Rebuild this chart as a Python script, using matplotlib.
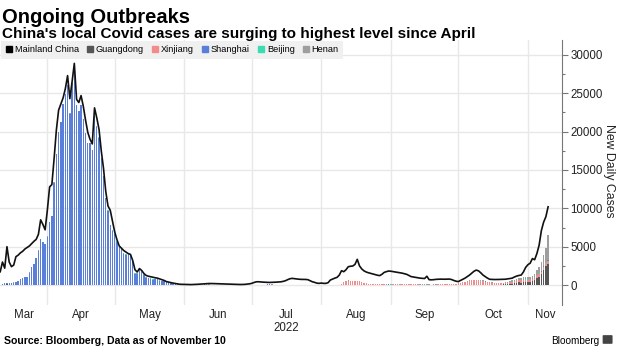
import matplotlib
matplotlib.use("Agg")
import matplotlib.pyplot as plt
import matplotlib.dates as mdates
from matplotlib.lines import Line2D
from matplotlib.patches import FancyBboxPatch
import numpy as np
import pandas as pd

plt.rcParams["font.family"] = ["Liberation Sans", "DejaVu Sans"]

fechas = pd.date_range("2022-03-11", "2022-11-10", freq="D")

# casos locales diarios, por mes (Mar 11 .. Nov 10)
total = (
    [1730, 3000, 2200, 5000, 3000, 2400, 2600, 3700, 3900, 4200, 4400, 4700, 4900, 5100, 5400, 5700, 5950, 6600, 8500, 7900, 7200]
    + [9800, 12800, 13100, 16500, 20200, 22800, 23600, 24400, 25600, 27300, 24300, 26500, 28900, 24200, 23800,
       24700, 23300, 21500, 19900, 19000, 18400, 23100, 21800, 20300, 17500, 15200, 12200, 10300, 9750, 8300]
    + [6900, 5900, 5100, 4800, 4500, 4300, 4100, 4000, 3200, 2000, 1700, 2150, 1900, 1500, 1250, 1150, 1080, 1000,
       950, 900, 800, 700, 600, 450, 380, 300, 250, 200, 150, 100, 90]
    + [90, 80, 70, 60, 70, 80, 100, 120, 150, 170, 180, 200, 200, 190, 180, 170, 160, 150, 140, 120, 110, 100, 90,
       80, 70, 70, 80, 90, 120, 160]
    + [220, 330, 420, 430, 400, 380, 360, 350, 340, 350, 360, 380, 400, 420, 480, 560, 700, 820, 870, 830, 780, 760,
       740, 740, 730, 700, 560, 430, 350, 250, 220]
    + [260, 220, 220, 300, 650, 780, 900, 1000, 1300, 1870, 1740, 2000, 2390, 2450, 2480, 2700, 3350, 2500, 2100,
       1850, 1700, 1600, 1520, 1450, 1350, 1280, 1230, 1400, 1650, 1750, 1830]
    + [1800, 1750, 1700, 1650, 1610, 1550, 1480, 1400, 1250, 1100, 1050, 1000, 950, 900, 870, 850, 1150, 700, 680,
       700, 740, 760, 770, 760, 760, 770, 780, 720, 600, 500]
    + [450, 600, 750, 900, 1100, 1300, 1550, 1800, 1950, 1850, 1600, 1300, 1100, 900, 750, 730, 720, 720, 730, 740,
       750, 760, 800, 850, 900, 1050, 1170, 1250, 1300, 1700, 2300]
    + [2650, 2850, 3450, 3300, 4100, 5200, 7100, 8200, 8900, 10200]
)

guangdong = (
    [40, 60, 70, 80, 70, 60, 50, 40, 40, 30, 30, 25, 25, 20, 20, 15, 15, 15, 12, 12, 10]
    + [10, 10, 8, 8, 6, 6, 5, 5, 5, 4, 4, 3, 3, 3, 4, 4, 3, 3, 2, 2, 2, 3, 2, 2, 2, 1, 1, 1, 2, 2]
    + [2, 1, 1, 1, 2, 2, 1, 1, 1, 1, 0, 0, 1, 1, 1, 0, 0, 1, 0, 0, 1, 0, 0, 1, 1, 0, 0, 1, 0, 0, 1]
    + [1, 1, 0, 0, 1, 1, 2, 1, 1, 0, 0, 1, 1, 0, 0, 1, 0, 0, 1, 1, 2, 2, 1, 1, 0, 0, 1, 1, 2, 2]
    + [3, 4, 5, 5, 6, 8, 10, 12, 10, 8, 6, 5, 5, 4, 4, 5, 6, 8, 10, 12, 10, 8, 6, 5, 4, 3, 3, 4, 5, 6, 8]
    + [10, 12, 14, 15, 15, 16, 18, 20, 22, 25, 25, 24, 22, 20, 18, 16, 15, 15, 16, 18, 20, 22, 25, 28, 30, 30, 32,
       35, 35, 38, 40]
    + [40, 42, 45, 45, 48, 50, 50, 48, 45, 42, 40, 38, 36, 34, 32, 30, 30, 28, 26, 25, 25, 24, 22, 20, 20, 18, 18,
       20, 22, 25]
    + [28, 30, 35, 40, 45, 50, 55, 60, 60, 58, 55, 50, 48, 45, 42, 45, 50, 55, 60, 70, 80, 100, 120, 150, 200, 250,
       300, 350, 300, 350, 400]
    + [400, 450, 500, 600, 900, 1100, 1400, 2000, 2500, 2800]
)

xinjiang = (
    [0] * 21 + [0] * 30 + [0] * 31 + [0] * 30
    + [0, 0, 0, 0, 0, 0, 0, 0, 0, 0, 0, 0, 0, 0, 0, 0, 0, 0, 0, 0, 0, 0, 0, 0, 0, 0, 0, 0, 0, 0, 0]
    + [0, 0, 0, 0, 0, 0, 0, 5, 30, 150, 350, 450, 560, 500, 450, 520, 560, 480, 420, 300, 200, 150, 120, 100, 80,
       60, 50, 40, 40, 30, 30]
    + [30, 30, 40, 40, 50, 50, 60, 60, 50, 50, 40, 40, 40, 30, 30, 30, 30, 30, 30, 40, 40, 50, 60, 80, 100, 120,
       150, 150, 150, 150]
    + [180, 250, 300, 350, 400, 500, 560, 560, 560, 540, 500, 480, 400, 350, 300, 250, 200, 180, 150, 150, 150, 150,
       150, 200, 250, 250, 300, 300, 300, 300, 300]
    + [300, 300, 300, 350, 350, 350, 350, 400, 400, 400]
)

shanghai = (
    [5, 64, 169, 130, 202, 158, 260, 366, 492, 758, 896, 981, 983, 1609, 2269, 2678, 3500, 4477, 5982, 5653, 5298]
    + [6311, 8226, 9006, 13354, 17077, 19982, 21222, 23624, 24944, 26087, 22348, 26330, 27719, 23460, 22680, 23513,
       21582, 19831, 18495, 18499, 17629, 22000, 20634, 19200, 16500, 14222, 11300, 9700, 7772, 7084]
    + [6606, 5669, 4982, 4651, 4024, 3961, 3975, 3900, 3014, 1487, 1449, 2096, 1681, 1369, 938, 869, 823, 719, 800,
       760, 570, 522, 480, 343, 290, 219, 131, 122, 93, 67, 15]
    + [10, 15, 10, 5, 5, 5, 5, 10, 10, 20, 10, 20, 5, 5, 5, 5, 5, 5, 5, 3, 5, 3, 3, 3, 4, 5, 2, 3, 5, 5]
    + [5, 10, 15, 20, 25, 30, 50, 60, 70, 60, 50, 30, 25, 15, 10, 10, 8, 5, 5, 5, 4, 3, 5, 3, 2, 3, 5, 2, 3, 2, 2]
    + [2, 3, 2, 1, 2, 3, 2, 1, 2, 3, 4, 3, 2, 2, 1, 2, 3, 2, 1, 1, 2, 2, 1, 1, 2, 3, 2, 1, 1, 2, 2]
    + [1, 2, 2, 1, 1, 2, 3, 2, 1, 1, 2, 2, 1, 1, 2, 2, 1, 1, 1, 2, 2, 1, 1, 2, 2, 1, 1, 2, 2, 1]
    + [2, 3, 5, 8, 10, 12, 15, 20, 25, 30, 25, 20, 15, 12, 10, 8, 8, 10, 12, 10, 8, 10, 12, 15, 12, 10, 8, 10, 12,
       15, 12]
    + [10, 10, 10, 10, 10, 20, 20, 20, 30, 30]
)

beijing = (
    [5, 4, 3, 3, 2, 2, 3, 2, 1, 1, 2, 2, 1, 1, 2, 3, 2, 2, 1, 1, 2]
    + [2, 3, 3, 2, 1, 2, 3, 2, 2, 1, 2, 3, 4, 5, 4, 3, 5, 8, 10, 12, 20, 25, 30, 35, 40, 45, 50, 48, 50, 55]
    + [58, 60, 62, 60, 58, 55, 52, 50, 48, 50, 48, 45, 42, 40, 38, 35, 32, 30, 28, 25, 22, 20, 18, 15, 12, 10, 8, 6,
       5, 4, 3]
    + [15, 20, 15, 10, 5, 5, 5, 10, 30, 50, 60, 50, 50, 40, 30, 20, 15, 10, 8, 5, 5, 3, 2, 2, 2, 2, 2, 1, 1, 1]
    + [1, 1, 2, 2, 1, 1, 0, 0, 1, 1, 0, 0, 1, 1, 0, 1, 0, 0, 1, 1, 0, 0, 1, 0, 0, 1, 1, 0, 0, 1, 1]
    + [1, 0, 0, 1, 1, 2, 1, 1, 0, 0, 1, 1, 2, 2, 1, 1, 0, 0, 1, 1, 2, 1, 1, 0, 0, 1, 1, 0, 0, 1, 1]
    + [1, 1, 2, 2, 1, 1, 0, 1, 1, 2, 2, 1, 1, 0, 1, 1, 2, 2, 1, 1, 0, 1, 1, 2, 2, 1, 1, 0, 1, 1]
    + [2, 3, 5, 8, 10, 12, 15, 18, 20, 22, 20, 18, 16, 15, 14, 15, 16, 18, 20, 22, 25, 25, 28, 30, 30, 32, 35, 38,
       40, 42, 45]
    + [20, 20, 20, 30, 40, 40, 50, 60, 60, 80]
)

henan = (
    [10, 12, 15, 18, 20, 22, 25, 20, 18, 15, 12, 10, 10, 8, 8, 10, 12, 12, 10, 8, 8]
    + [8, 10, 12, 15, 15, 18, 20, 22, 20, 18, 15, 12, 10, 10, 12, 15, 18, 20, 22, 20, 18, 16, 15, 14, 12, 10, 10,
       12, 15, 18]
    + [20, 25, 28, 30, 32, 35, 38, 40, 42, 45, 48, 50, 48, 45, 40, 35, 30, 25, 20, 18, 15, 12, 10, 8, 8, 6, 5, 5, 4,
       4, 3]
    + [3, 3, 4, 5, 6, 8, 10, 12, 10, 8, 6, 5, 5, 4, 4, 3, 3, 2, 2, 2, 3, 3, 2, 2, 1, 1, 2, 2, 3, 3]
    + [4, 5, 5, 6, 5, 4, 3, 3, 4, 5, 6, 5, 4, 3, 3, 4, 5, 6, 8, 6, 5, 4, 3, 3, 2, 2, 3, 3, 4, 4, 5]
    + [6, 8, 10, 12, 14, 15, 12, 10, 8, 8, 10, 12, 14, 16, 15, 14, 12, 10, 8, 8, 10, 12, 14, 15, 14, 12, 10, 10, 12,
       14, 15]
    + [16, 18, 20, 18, 16, 15, 14, 12, 12, 14, 16, 18, 20, 18, 16, 15, 14, 12, 12, 14, 16, 18, 20, 22, 20, 18, 16,
       15, 14, 12]
    + [12, 14, 16, 18, 20, 22, 25, 28, 30, 30, 28, 25, 22, 20, 22, 25, 30, 35, 40, 50, 60, 80, 100, 120, 150, 180,
       200, 250, 300, 300, 300]
    + [300, 300, 400, 500, 700, 900, 1200, 1500, 1800, 3200]
)

series = [
    ("Guangdong", guangdong, "#555555"),
    ("Xinjiang", xinjiang, "#f28b8b"),
    ("Shanghai", shanghai, "#5a7fdb"),
    ("Beijing", beijing, "#3ddbb4"),
    ("Henan", henan, "#9e9e9e"),
]

meses = pd.date_range("2022-03-01", "2022-12-01", freq="MS")
x0 = mdates.date2num(pd.Timestamp("2022-03-11")) - 0.1
x1 = mdates.date2num(pd.Timestamp("2022-03-11")) + 250.2

fig = plt.figure(figsize=(6.2, 3.48), dpi=100)
ax = fig.add_axes([0, 0.1236, 0.9065, 0.7615])

xs = mdates.date2num(fechas)
base = np.zeros(len(xs))
for nombre, valores, color in series:
    valores = np.array(valores, dtype=float)
    ax.bar(xs, valores, bottom=base, width=0.62, color=color, linewidth=0, zorder=2)
    base += valores

ax.plot(xs, total, color="#111111", lw=1.2, zorder=3, solid_joinstyle="round")

ax.set_xlim(x0, x1)
ax.set_ylim(-2600, 31950)

# eje y a la derecha
ax.yaxis.tick_right()
ax.set_yticks(np.arange(0, 30001, 5000))
ax.set_yticks(np.arange(2500, 30000, 5000), minor=True)
ax.tick_params(axis="y", which="major", length=4, width=0.8, color="#777777", labelsize=8.3, pad=2,
               labelcolor="#222222")
ax.tick_params(axis="y", which="minor", length=2.5, width=0.8, color="#777777")
ax.grid(axis="y", which="major", color="#e8e8e8", lw=1, zorder=0)

# rejilla vertical en el inicio de cada mes, etiquetas centradas en la parte visible
inicios = [mdates.date2num(m) for m in meses[1:-1]]
ax.set_xticks(inicios)
ax.set_xticklabels([])
ax.tick_params(axis="x", which="major", length=0)
ax.grid(axis="x", which="major", color="#e8e8e8", lw=1, zorder=0)

centros, nombres = [], []
for a, b in zip(meses[:-1], meses[1:]):
    lo = max(mdates.date2num(a), x0)
    hi = min(mdates.date2num(b), x1)
    if hi > lo:
        centros.append((lo + hi) / 2)
        nombres.append(a.strftime("%b"))
ax.set_xticks(centros, minor=True)
ax.set_xticklabels(nombres, minor=True)
ax.tick_params(axis="x", which="minor", length=0, labelsize=8.3, pad=3, labelcolor="#222222")
jul = centros[nombres.index("Jul")]
ax.text(jul, -0.085, "2022", transform=ax.get_xaxis_transform(), ha="center", va="center",
        fontsize=8.3, color="#222222")

for s in ["left", "top", "bottom"]:
    ax.spines[s].set_visible(False)
ax.spines["right"].set_color("#777777")
ax.spines["right"].set_linewidth(0.8)

fig.text(0.983, 0.51, "New Daily Cases", rotation=270, fontsize=8.8, ha="center", va="center",
         color="#222222")

# leyenda
nombres_ley = ["Mainland China"] + [s[0] for s in series]
colores_ley = ["black"] + [s[2] for s in series]
handles = [Line2D([], [], marker="s", ls="none", color=c, markersize=4.3) for c in colores_ley]
leg = ax.legend(handles, nombres_ley, ncol=6, loc="upper left", bbox_to_anchor=(0, 1.0),
                fontsize=6.6, frameon=True, fancybox=False, borderaxespad=0.1,
                handlelength=0.7, handletextpad=0.3, columnspacing=0.85, borderpad=0.5)
leg.get_frame().set_facecolor("#f0f0f0")
leg.get_frame().set_edgecolor("none")
leg.get_frame().set_alpha(1)

fig.text(0.003, 0.934, "Ongoing Outbreaks", fontsize=14.5, fontweight="bold", va="baseline")
fig.text(0.003, 0.891, "China's local Covid cases are surging to highest level since April",
         fontsize=11, fontweight="bold", va="baseline")
fig.text(0.006, 0.012, "Source: Bloomberg, Data as of November 10", fontsize=7.6, fontweight="bold",
         va="baseline")
fig.text(0.967, 0.012, "Bloomberg", fontsize=7.2, ha="right", va="baseline")
fig.patches.append(FancyBboxPatch((0.974, 0.014), 0.012, 0.021, boxstyle="round,pad=0.002",
                                  transform=fig.transFigure, facecolor="#444444", edgecolor="none"))

fig.savefig("out.png", dpi=100)
